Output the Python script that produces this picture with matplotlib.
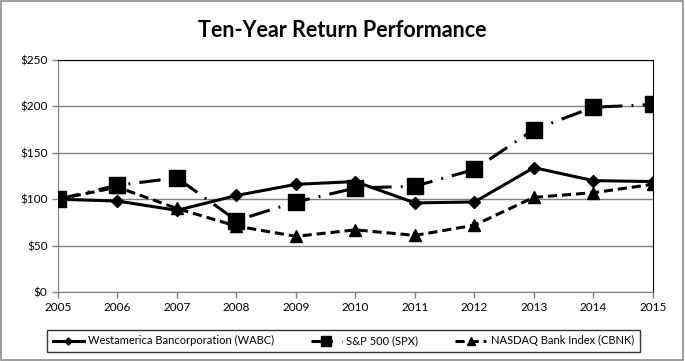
"""Ten-year return performance chart (WABC vs S&P 500 vs NASDAQ Bank)."""

import matplotlib
matplotlib.use("Agg")
import matplotlib.pyplot as plt
from matplotlib.patches import Rectangle

years = [2005, 2006, 2007, 2008, 2009, 2010, 2011, 2012, 2013, 2014, 2015]
wabc = [100, 98, 88, 104, 116, 119, 96, 97, 134, 120, 119]
spx = [100, 115, 123, 77, 97, 112, 114, 132, 175, 199, 202]
cbnk = [100, 113, 90, 71, 60, 67, 61, 72, 102, 107, 116]
yticks = [0, 50, 100, 150, 200, 250]

plt.rcParams["font.family"] = ["Lato", "DejaVu Sans"]

fig = plt.figure(figsize=(6.85, 3.61), dpi=100)
ax = fig.add_axes([0.0847, 0.191, 0.8683, 0.643])

ax.plot(years, wabc, color="black", lw=2.2, marker="D", ms=6,
        label="Westamerica Bancorporation (WABC)", zorder=3)
ax.plot(years, cbnk, color="black", lw=2.2, marker="^", ms=8.5,
        dashes=(3, 1.6), label="NASDAQ Bank Index (CBNK)", zorder=3)
ax.plot(years, spx, color="black", lw=2.2, marker="s", ms=11,
        dashes=(7, 3, 0.6, 3), label="S&P 500 (SPX)", zorder=4)

ax.set_xlim(years[0], years[-1])
ax.set_ylim(0, 250)
ax.set_xticks(years)
ax.set_yticks(yticks)
ax.set_yticklabels([f"${v}" for v in yticks])
ax.grid(axis="y", color="#808080", lw=1)
ax.tick_params(labelsize=8.5, color="#808080", length=4, width=1)
for side in ("left", "bottom"):
    ax.spines[side].set_color("#808080")
for side in ("top", "right"):
    ax.spines[side].set_color("black")

fig.text(0.5, 0.915, "Ten-Year Return Performance", ha="center", va="center",
         fontsize=15.5, fontweight="bold")

handles, labels = ax.get_legend_handles_labels()
order = [0, 2, 1]
leg = fig.legend([handles[i] for i in order], [labels[i] for i in order],
                 loc="lower left", bbox_to_anchor=(0.0686, 0.025, 0.865, 0.07),
                 mode="expand", ncol=3, fontsize=8, frameon=True, fancybox=False,
                 handlelength=2.8, markerscale=0.6, borderaxespad=0,
                 borderpad=0.5, columnspacing=1.0, handletextpad=0.4)
leg.get_frame().set_edgecolor("black")
leg.get_frame().set_linewidth(1)

fig.add_artist(Rectangle((0.002, 0.003), 0.995, 0.993, transform=fig.transFigure,
                         fill=False, edgecolor="#8c8c8c", lw=1.2))

fig.savefig("out.png", dpi=100)
